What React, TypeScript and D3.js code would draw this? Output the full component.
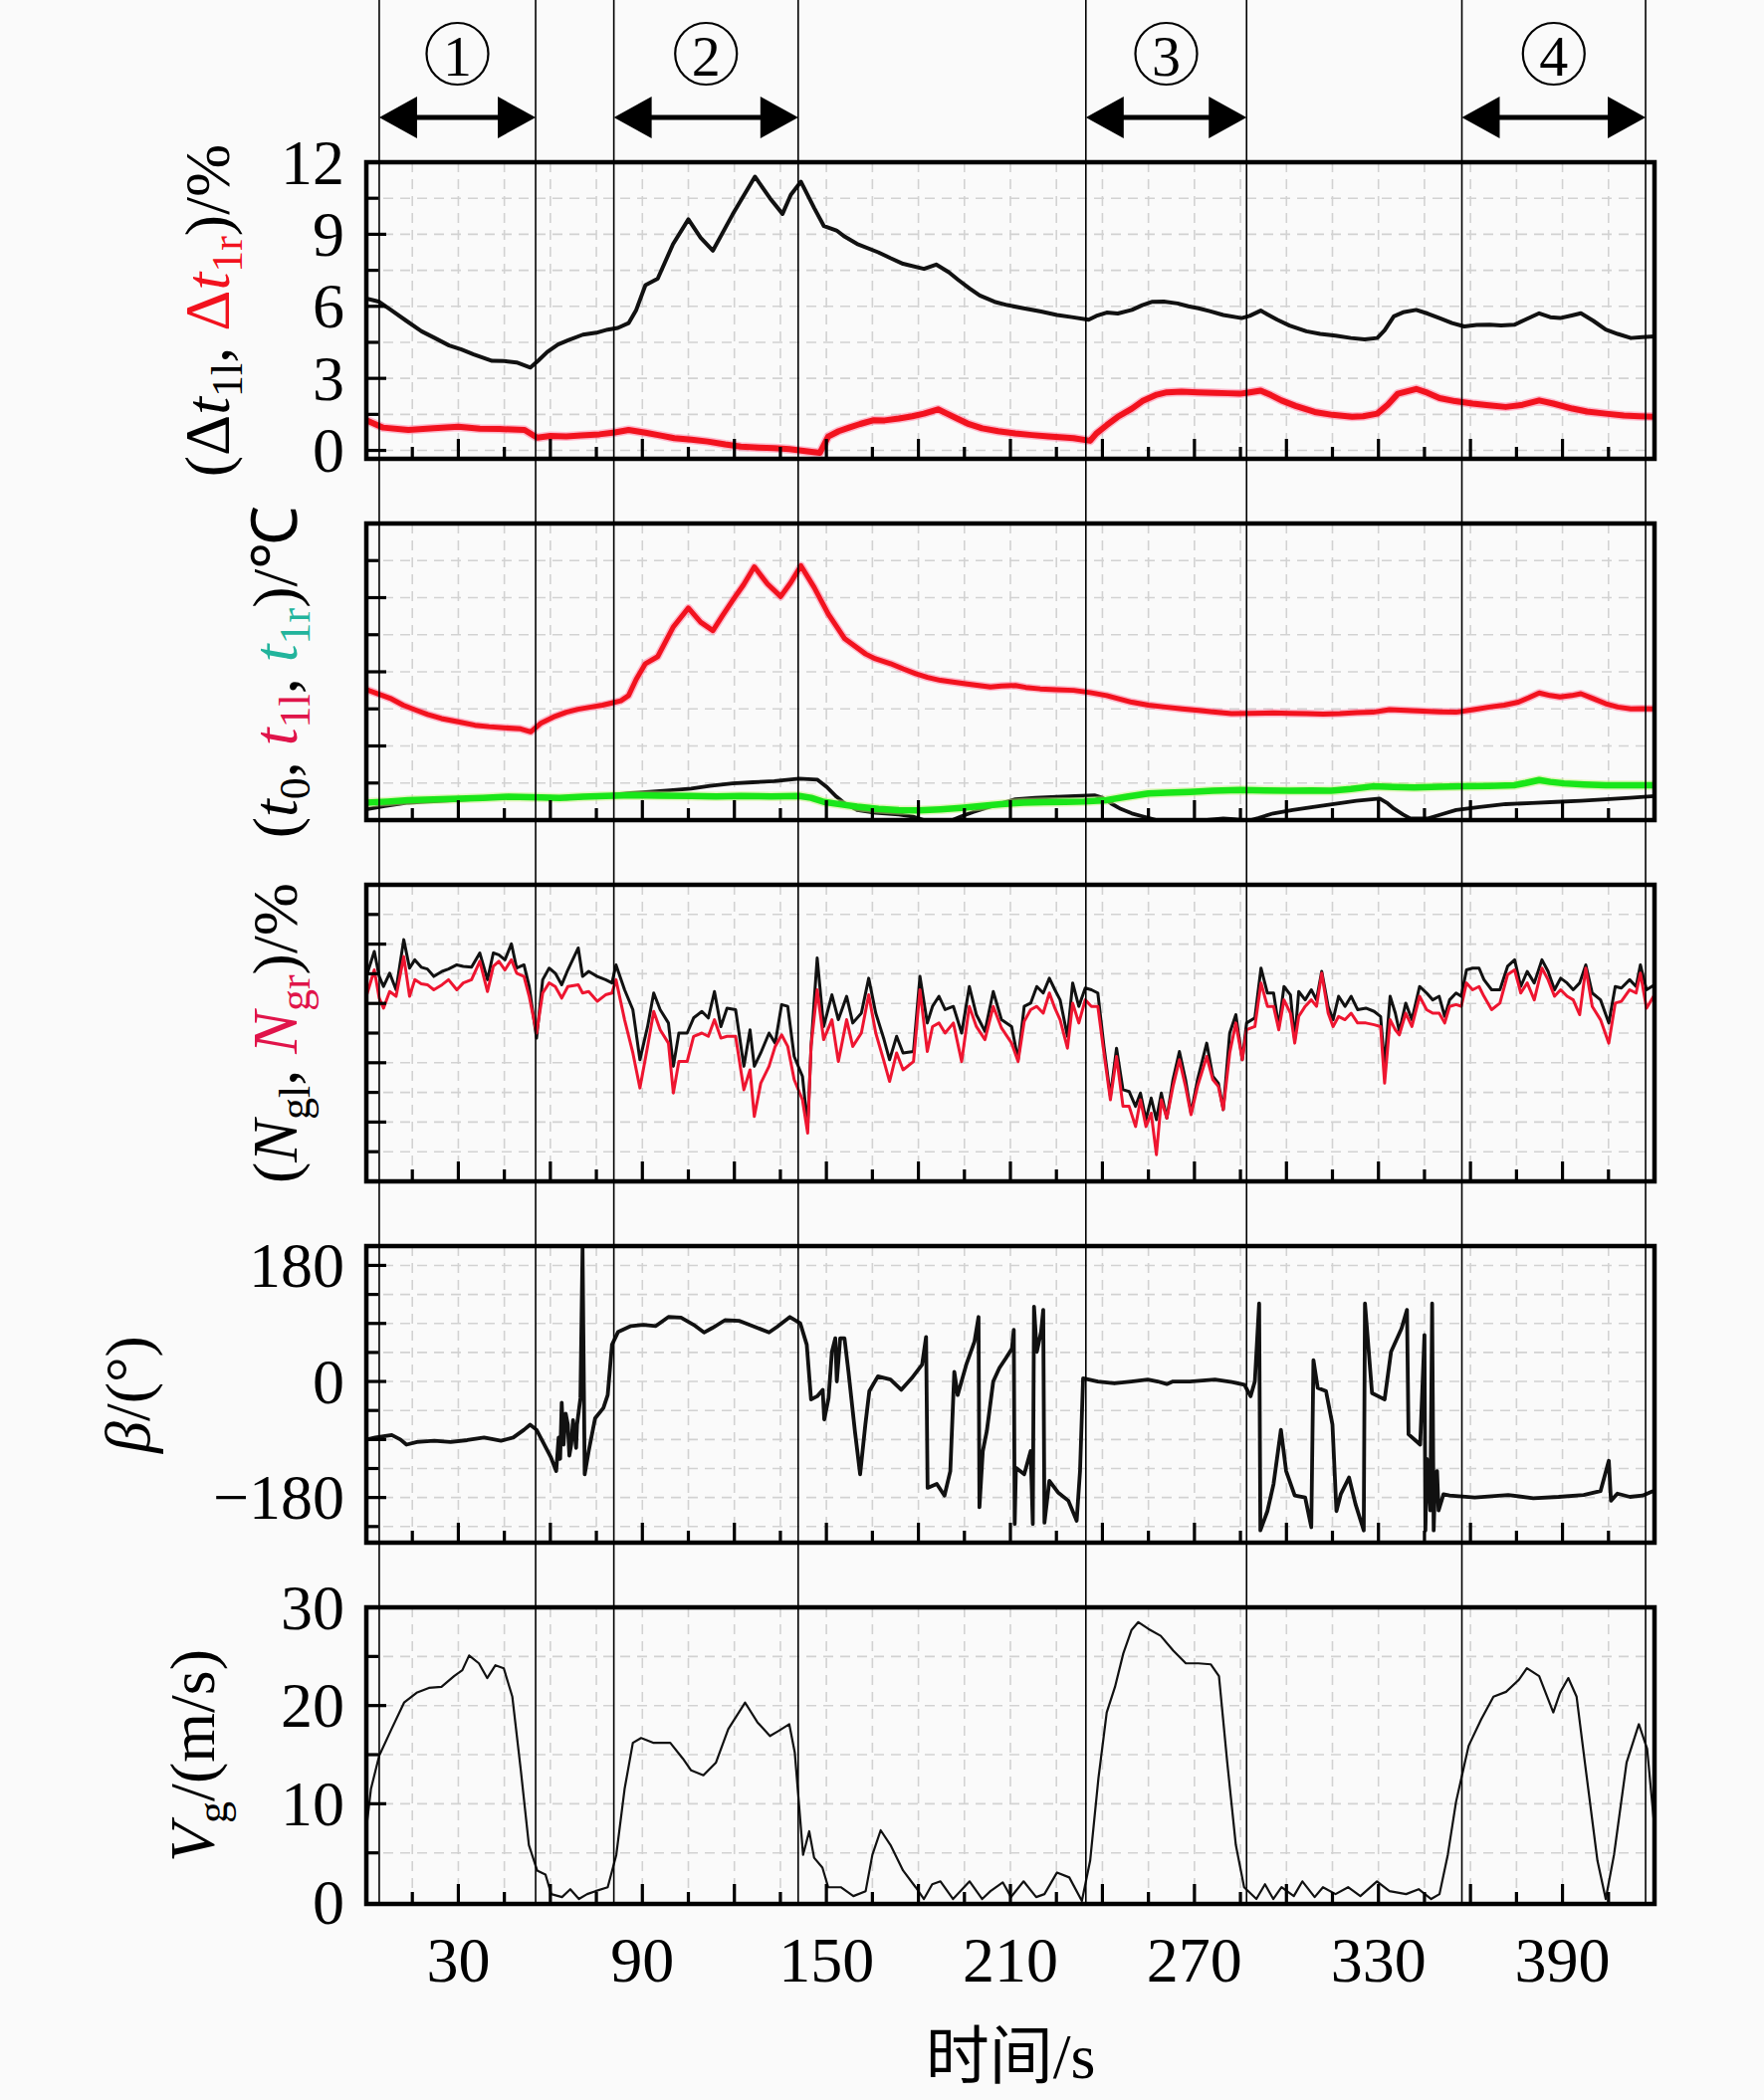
import React from 'react';
import * as d3 from 'd3';

// ---- data (time in s) ----
const dt1l: [number, number][] = [
  [0, 6.33], [4, 6.2], [8, 5.85], [13, 5.4], [18, 4.96], [22, 4.7], [27, 4.37], [31, 4.2], [35, 4.0],
  [41, 3.73], [45, 3.72], [49, 3.66], [53.5, 3.45], [56, 3.73], [59, 4.1], [62.5, 4.41], [66, 4.6],
  [70.6, 4.82], [75, 4.9], [78.7, 5.03], [82, 5.1], [85.5, 5.3], [88, 5.85], [91, 6.88], [95, 7.15],
  [100, 8.59], [105, 9.62], [109, 8.86], [113, 8.32], [119.4, 9.82], [126.7, 11.4], [131.6, 10.5],
  [135.7, 9.85], [138.4, 10.64], [141.7, 11.19], [146, 10.1], [149.2, 9.34], [153.3, 9.16], [156, 8.9],
  [160, 8.6], [166.9, 8.25], [171, 8.0], [175, 7.77], [181.8, 7.56], [185.8, 7.74], [189.9, 7.42],
  [193, 7.1], [196.7, 6.74], [200, 6.45], [204.8, 6.19], [209, 6.05], [214.3, 5.92], [220, 5.78],
  [225.2, 5.64], [230, 5.55], [235.5, 5.44], [238, 5.6], [241.4, 5.74], [245, 5.7], [249.6, 5.85],
  [253, 6.05], [256.3, 6.19], [260, 6.2], [264.5, 6.12], [268, 6.0], [271.3, 5.92], [275, 5.8],
  [279.4, 5.64], [285.4, 5.51], [288, 5.6], [291.6, 5.82], [294, 5.65], [297, 5.44], [301, 5.2],
  [306.5, 4.96], [311, 4.85], [316, 4.78], [321, 4.68], [325.5, 4.62], [329.6, 4.68], [332, 5.0],
  [335, 5.58], [338, 5.75], [342.3, 5.85], [346, 5.7], [349.9, 5.51], [354, 5.3], [358, 5.16],
  [362, 5.22], [366.2, 5.23], [370, 5.2], [374.3, 5.23], [378, 5.45], [382.4, 5.71], [386, 5.55],
  [389.2, 5.51], [393, 5.62], [396, 5.71], [400, 5.4], [404.1, 5.03], [408, 4.85], [412.3, 4.68],
  [416, 4.72], [420, 4.75],
];

const dt1r: [number, number][] = [
  [0, 1.26], [5.5, 0.95], [13.7, 0.85], [22, 0.92], [30, 0.99], [37, 0.9], [43.5, 0.89], [51.6, 0.85],
  [55.7, 0.53], [60, 0.6], [65.2, 0.58], [70, 0.62], [76, 0.67], [81, 0.75], [85.5, 0.85], [91, 0.74],
  [96, 0.62], [100.4, 0.51], [106, 0.45], [111.3, 0.37], [117, 0.25], [122.1, 0.16], [128, 0.12],
  [133, 0.1], [138, 0.05], [143.8, -0.04], [147.9, -0.1], [150.6, 0.58], [154, 0.8], [157.4, 0.95],
  [161, 1.1], [165.5, 1.26], [169, 1.25], [173.6, 1.33], [178, 1.42], [181.8, 1.53], [186.4, 1.71],
  [189, 1.55], [192.6, 1.33], [196, 1.12], [200.8, 0.92], [206, 0.8], [211.6, 0.71], [217, 0.64],
  [222.5, 0.58], [226, 0.55], [230.6, 0.51], [236, 0.4], [238, 0.7], [241.4, 1.05], [245, 1.4],
  [249.6, 1.74], [253, 2.05], [257.7, 2.32], [261, 2.42], [265.8, 2.45], [271, 2.42], [276.7, 2.4],
  [281, 2.38], [284.8, 2.36], [288, 2.42], [291.6, 2.49], [295, 2.3], [298.4, 2.08], [303, 1.85],
  [309.2, 1.6], [315, 1.48], [321.4, 1.4], [325, 1.42], [329.6, 1.53], [333, 1.9], [336.3, 2.36],
  [342.3, 2.56], [346, 2.4], [349.9, 2.18], [355, 2.05], [360.7, 1.95], [366, 1.88], [371.5, 1.81],
  [377, 1.9], [382.4, 2.08], [387, 1.95], [393.2, 1.74], [398, 1.62], [404.1, 1.53], [410, 1.45],
  [415, 1.42], [420, 1.4],
];

const t1l: [number, number][] = [
  [0, 3.52], [4, 3.4], [8.2, 3.27], [12, 3.1], [16.4, 2.96], [20, 2.85], [24.5, 2.74], [30, 2.65],
  [35.4, 2.56], [40, 2.52], [44.8, 2.49], [50.3, 2.46], [53.6, 2.38], [57, 2.62], [61, 2.78],
  [65.2, 2.91], [69, 2.99], [73.3, 3.05], [77, 3.1], [80.1, 3.16], [83, 3.22], [85.5, 3.36], [88, 3.8],
  [91, 4.22], [95, 4.41], [100, 5.2], [105, 5.72], [109, 5.34], [113, 5.11], [116, 5.5], [119.4, 5.92],
  [123, 6.35], [126.5, 6.83], [130.8, 6.37], [135.1, 6.03], [138.4, 6.41], [141.7, 6.86], [146, 6.28],
  [150.6, 5.56], [156, 4.89], [162.8, 4.48], [166, 4.35], [170.9, 4.22], [175, 4.08], [179.1, 3.95],
  [183, 3.85], [187.2, 3.77], [195.3, 3.68], [203.5, 3.59], [207, 3.62], [211.6, 3.63], [215, 3.58],
  [219.7, 3.54], [225, 3.52], [230.6, 3.5], [236, 3.44], [241.4, 3.36], [245, 3.28], [249.6, 3.18],
  [255, 3.1], [260.4, 3.05], [266, 3.0], [271.3, 2.96], [276, 2.92], [282.1, 2.87], [288, 2.88],
  [295.7, 2.89], [301, 2.88], [306.5, 2.87], [312, 2.86], [317.4, 2.87], [323, 2.9], [328.2, 2.91],
  [333.6, 2.98], [339, 2.96], [344.5, 2.94], [350, 2.92], [355.3, 2.91], [361, 2.98], [366.2, 3.05],
  [371, 3.1], [375.6, 3.18], [379, 3.3], [382.4, 3.43], [386, 3.36], [389.2, 3.32], [393, 3.36],
  [396, 3.41], [400, 3.28], [404.1, 3.14], [408, 3.05], [412.3, 3.0], [416, 3.01], [420, 3.0],
];

const t1r: [number, number][] = [
  [0, 0.47], [7, 0.5], [13.7, 0.54], [22, 0.56], [30, 0.58], [38, 0.6], [46.2, 0.63], [57, 0.61],
  [63, 0.6], [70.6, 0.63], [78, 0.65], [86.9, 0.67], [96, 0.66], [105.9, 0.65], [114, 0.64],
  [122.1, 0.65], [132, 0.64], [141.1, 0.65], [145, 0.6], [149.2, 0.49], [155, 0.42], [160, 0.36],
  [167, 0.3], [173.6, 0.27], [180, 0.26], [187.2, 0.29], [194, 0.33], [200.8, 0.38], [207, 0.43],
  [214.3, 0.47], [221, 0.48], [227.9, 0.49], [234, 0.5], [241.4, 0.54], [248, 0.63], [255, 0.72],
  [261, 0.74], [268.5, 0.76], [276, 0.79], [284.8, 0.81], [293, 0.8], [301.1, 0.79], [308, 0.8],
  [314.6, 0.79], [321, 0.84], [328.2, 0.91], [335, 0.89], [341.7, 0.88], [350, 0.9], [358, 0.91],
  [366, 0.92], [374.3, 0.94], [378, 1.0], [382.4, 1.08], [386, 1.03], [390.5, 0.99], [397, 0.96],
  [404.1, 0.94], [412, 0.94], [420, 0.94],
];

const t0: [number, number][] = [
  [0, 0.29], [6, 0.38], [13.7, 0.47], [22, 0.51], [30, 0.54], [38, 0.58], [46.2, 0.61], [55.7, 0.63],
  [60, 0.6], [65.2, 0.58], [72, 0.62], [78.7, 0.67], [85, 0.72], [92.3, 0.76], [99, 0.8], [105.9, 0.85],
  [112, 0.92], [119.4, 0.99], [126, 1.02], [133, 1.05], [141.1, 1.12], [147.1, 1.09], [150, 0.9],
  [153.3, 0.63], [156, 0.45], [160, 0.27], [166, 0.2], [173.6, 0.15], [178, 0.1], [181.8, 0],
  [184.5, -0.13], [187, -0.15], [189.9, -0.04], [194, 0.1], [198, 0.22], [204, 0.38], [211.6, 0.56],
  [218, 0.6], [225.2, 0.63], [231, 0.65], [237.4, 0.67], [240, 0.6], [242.8, 0.45], [246, 0.3],
  [249.6, 0.18], [254, 0.08], [257.7, 0], [263, -0.03], [268.5, -0.04], [274, 0.0], [279.4, 0.04],
  [283, 0.02], [287.5, -0.02], [291, 0.06], [295.7, 0.18], [302, 0.27], [309.2, 0.36], [316, 0.44],
  [322.8, 0.52], [330.4, 0.58], [333, 0.45], [335, 0.31], [338, 0.15], [340.4, 0.04], [345.9, 0.04],
  [350, 0.14], [355.3, 0.27], [363, 0.35], [371.5, 0.43], [380, 0.46], [387.8, 0.49], [396, 0.52],
  [404.1, 0.56], [412, 0.6], [420, 0.65],
];

const ngTime = [
  0, 2.6, 4.2, 5.6, 7.6, 9.7, 12.2, 14.1, 15.8, 17.9, 19.9, 22, 24.7, 26.8, 29.5, 31.6, 34.3, 37, 39.5,
  41.4, 43.2, 45.2, 47.3, 49, 51.4, 53.1, 55.5, 57.5, 59.6, 61.6, 63.7, 65.7, 69.1, 70.5, 72.5, 75.3,
  78, 80.1, 81.4, 84.2, 86.9, 89.2, 91.7, 93.7, 95.8, 98.5, 100.1, 101.9, 104.6, 106.7, 109.4, 111.5,
  113.5, 115.6, 117.6, 120.4, 123.1, 125.1, 126.5, 128.6, 131.3, 133.3, 135.4, 137.4, 139.5, 142.2,
  143.9, 145, 147, 149.1, 151.8, 153.9, 156.6, 158.6, 161.4, 163.8, 166.1, 168.8, 170.6, 172.9, 175,
  178.4, 180.5, 182.9, 184.6, 186.7, 188.7, 191.4, 194.1, 196.6, 198.9, 201.7, 204.4, 207.1, 210.4,
  212.5, 214.5, 216.6, 218.6, 220.7, 222.7, 224.5, 226.2, 228.6, 230.3, 232.3, 234.4, 236.4, 238.5,
  240.5, 242.6, 244.6, 246.7, 248.7, 250.8, 252.4, 254.2, 255.9, 257.6, 259.2, 261, 263, 265.1, 267.1,
  268.9, 271, 274, 276, 277.8, 279.4, 281.5, 283.5, 285.6, 287, 289.7, 291.7, 293.8, 295.8, 297.5,
  299.2, 301.3, 302.7, 304, 306.1, 308.1, 309.8, 311.5, 313.6, 315.2, 317, 319.1, 321.1, 323.2, 325.9,
  328.6, 330.7, 332, 333.8, 335.5, 336.8, 338.9, 340.9, 343.4, 345.7, 347.7, 349.8, 351.6, 353.2,
  355.3, 357, 358.7, 360.7, 362.8, 364.4, 366.9, 369.6, 372.1, 374.4, 376.4, 378.5, 380.8, 383.3,
  385.3, 387.4, 389.4, 391.5, 393.5, 395.6, 397.6, 399.7, 402.4, 405.1, 407.2, 409.2, 411.9, 414,
  415.4, 417.4, 420,
];
const ngl = [
  6.91, 7.75, 6.91, 6.57, 7.02, 6.46, 8.15, 7.19, 7.47, 7.22, 7.16, 6.91, 7.08, 7.16, 7.3, 7.25, 7.22,
  7.7, 6.8, 7.7, 7.64, 7.47, 8.01, 7.19, 7.3, 6.57, 4.83, 6.8, 7.19, 7.02, 6.63, 7.13, 7.87, 6.91, 7.08,
  6.91, 6.8, 6.69, 7.3, 6.46, 5.79, 4.1, 5.22, 6.35, 5.79, 5.34, 3.88, 5.0, 5.0, 5.51, 5.73, 5.51, 6.4,
  5.22, 5.84, 5.79, 3.88, 5.11, 3.88, 4.33, 5.0, 4.66, 5.96, 5.9, 4.21, 3.54, 1.85, 4.55, 7.53, 5.22,
  6.29, 5.45, 6.24, 5.34, 5.67, 6.85, 5.67, 4.78, 4.1, 4.89, 4.33, 4.38, 6.91, 5.34, 5.9, 6.24, 5.79,
  5.9, 5.0, 6.57, 5.62, 5.06, 6.4, 5.45, 5.22, 4.1, 5.9, 6.01, 6.57, 6.35, 6.85, 6.46, 6.12, 4.89, 6.69,
  5.9, 6.52, 6.46, 6.35, 4.55, 2.87, 4.49, 3.09, 3.03, 2.53, 2.98, 2.08, 2.81, 2.08, 2.98, 2.13, 3.43,
  4.38, 3.43, 2.3, 3.43, 4.66, 3.54, 3.31, 2.42, 5.0, 5.62, 4.1, 5.34, 5.51, 7.19, 6.35, 6.35, 5.22,
  6.57, 6.29, 4.78, 6.4, 6.12, 6.46, 6.12, 7.08, 5.9, 5.45, 6.24, 5.9, 6.24, 5.79, 5.84, 5.73, 5.56,
  3.88, 6.24, 5.67, 5.06, 6.01, 5.45, 6.57, 6.35, 6.12, 6.24, 5.56, 6.12, 6.35, 6.24, 7.13, 7.19, 7.19,
  6.8, 6.46, 6.46, 7.25, 7.47, 6.57, 7.08, 6.69, 7.47, 7.08, 6.46, 6.85, 6.69, 6.46, 6.69, 7.3, 6.35,
  6.12, 5.34, 6.57, 6.52, 6.8, 6.57, 7.3, 6.46, 6.63,
];
const ngr = [
  6.24, 7.13, 6.18, 5.84, 6.4, 6.24, 7.58, 6.24, 6.8, 6.66, 6.63, 6.46, 6.63, 6.8, 6.46, 6.69, 6.8,
  7.42, 6.4, 7.25, 7.42, 7.13, 7.47, 7.02, 6.91, 6.24, 5.0, 6.35, 6.69, 6.57, 6.18, 6.57, 6.63, 6.35,
  6.4, 6.07, 6.29, 6.35, 6.8, 5.45, 4.33, 3.15, 4.55, 5.73, 5.11, 4.66, 2.98, 4.04, 4.04, 4.89, 5.0,
  4.89, 5.45, 4.83, 4.89, 4.89, 3.09, 3.76, 2.19, 3.31, 3.88, 4.55, 4.94, 4.55, 3.43, 2.75, 1.63, 4.55,
  6.46, 4.78, 5.45, 4.04, 5.45, 4.55, 5.0, 6.29, 5.0, 4.04, 3.37, 4.33, 3.76, 4.04, 6.46, 4.38, 5.22,
  5.34, 5.0, 5.34, 4.04, 5.9, 5.22, 4.78, 5.9, 5.17, 4.66, 4.04, 5.39, 5.79, 5.9, 5.67, 6.35, 5.84, 5.45,
  4.49, 6.01, 5.34, 6.12, 5.9, 5.9, 4.33, 2.75, 4.21, 2.53, 2.53, 1.85, 2.75, 1.85, 2.3, 0.9, 2.75,
  2.13, 3.2, 4.1, 3.2, 2.25, 3.2, 4.21, 3.43, 3.2, 2.42, 4.33, 5.34, 4.1, 5.11, 5.22, 6.69, 5.9, 5.9,
  5.11, 6.12, 5.67, 4.66, 5.56, 5.9, 6.12, 5.9, 7.02, 5.67, 5.22, 5.56, 5.45, 5.67, 5.34, 5.34, 5.28,
  5.22, 3.31, 5.45, 5.11, 4.94, 5.67, 5.22, 6.24, 5.79, 5.67, 5.67, 5.34, 5.9, 5.96, 5.9, 6.69, 6.46,
  6.57, 6.24, 5.79, 6.01, 6.97, 7.13, 6.35, 6.69, 6.12, 7.19, 6.8, 6.24, 6.46, 6.24, 6.12, 5.62, 7.19,
  5.9, 5.45, 4.66, 6.01, 6.07, 6.46, 6.35, 7.02, 5.84, 6.29,
];

const beta: [number, number][] = [
  [0, -90], [2.9, -87], [8.3, -83], [11.1, -90], [13.1, -98], [16.5, -94], [22, -92], [27.5, -94],
  [32.9, -91], [38.4, -87], [43.9, -92], [47.9, -87], [51.4, -75], [53.4, -67], [55.5, -75],
  [57.5, -93], [60.2, -118], [61.9, -139], [62.7, -87], [63.2, -120], [63.7, -33], [64.3, -98],
  [65, -50], [65.7, -67], [66.2, -115], [66.8, -98], [67.4, -60], [68.4, -103], [68.7, -67],
  [69.8, -26], [70.5, 206], [71.2, -144], [72.5, -108], [74.6, -57], [77.3, -41], [78.7, -21],
  [80.1, 57], [82.1, 77], [86.3, 86], [90.3, 88], [94.4, 86], [98.5, 100], [102.6, 99], [106.7, 88],
  [110.1, 76], [112.8, 83], [116.9, 95], [121.7, 94], [126.5, 85], [131.3, 76], [134, 85], [138.1, 100],
  [141.5, 90], [143.6, 57], [145, -28], [147, -23], [148.8, -13], [149.3, -59], [150.7, -26],
  [151.8, 46], [152.9, 67], [153.4, 0], [154.5, 67], [155.9, 67], [157.2, 15], [159.3, -77], [161, -144],
  [162.7, -67], [164, -15], [166.8, 8], [170.9, 3], [174.4, -13], [177.8, 5], [181.2, 26], [182.5, 69],
  [183, -165], [186, -159], [188.5, -177], [190.4, -139], [191.7, 15], [192.8, -21], [195.6, 26],
  [198.3, 62], [199.6, 100], [199.9, -195], [201, -108], [202.3, -77], [204.4, 0], [206.4, 21],
  [208.5, 36], [210.5, 51], [211.1, 80], [211.4, -221], [211.8, -134], [214.5, -144], [216.6, -108],
  [217.3, -221], [217.7, 116], [218.6, 46], [220, 77], [220.7, 111], [221.1, -219], [222.7, -154],
  [225.5, -172], [228.9, -185], [231.6, -216], [232.7, -139], [233.7, 5], [238.5, 0], [243.9, -3],
  [249.4, 0], [254.8, 3], [258, 0], [261, -4], [263, 0], [268.5, 0], [276.7, 3], [282.2, -1],
  [286.3, -5], [288.3, -23], [289.7, 0], [291.1, 121], [291.5, -231], [293.8, -201], [295.8, -159],
  [298.2, -75], [299.9, -139], [302.7, -177], [306.1, -180], [308.1, -226], [308.8, 33], [310.2, -10],
  [312.9, -15], [315, -67], [316.3, -201], [317.7, -175], [320.4, -149], [322.5, -190], [325.2, -231],
  [325.6, 121], [327.9, -18], [332, -28], [334.1, 46], [337.5, 82], [339.3, 111], [339.8, -82],
  [343.6, -98], [345, 72], [345.3, -231], [345.8, -120], [346.4, -165], [346.9, -200], [347.5, 121],
  [348, -231], [348.5, -150], [349.1, -139], [349.6, -200], [351.2, -175], [353.2, -177],
  [361.4, -180], [372.3, -176], [380.5, -181], [388.7, -179], [396.9, -176], [402.4, -170],
  [405.1, -123], [405.8, -185], [407.9, -174], [412, -179], [416.1, -177], [419.5, -170],
];

const vg: [number, number][] = [
  [0, 7.5], [1.5, 11.5], [4.2, 14.9], [8.2, 17.6], [12.3, 20.3], [16.4, 21.3], [20.4, 21.8],
  [24.5, 21.9], [28.6, 23], [31.3, 23.6], [33.5, 25.1], [36.7, 24.3], [39.4, 22.8], [42.1, 24.1],
  [44.8, 23.8], [47.6, 20.9], [50.3, 13.6], [53, 5.8], [55.7, 3.2], [58.4, 2.8], [60.3, 0.8],
  [63.8, 0.5], [66.5, 1.3], [69.3, 0.3], [72, 0.8], [74.7, 1.1], [78.7, 1.5], [81.5, 4.8], [84.2, 11.5],
  [86.9, 16.2], [89.6, 16.7], [93.7, 16.2], [99.1, 16.2], [103.2, 14.6], [105.9, 13.4], [109.9, 12.9],
  [114, 14.2], [118, 17.6], [123.5, 20.3], [127.5, 18.3], [131.6, 16.9], [134.3, 17.4], [137.9, 18.1],
  [139.7, 15.2], [142.4, 4.8], [144.4, 7.2], [146, 4.5], [148.7, 3.5], [150.6, 1.5], [154.7, 1.5],
  [158.8, 0.6], [162.8, 1.1], [165, 4.8], [167.7, 7.3], [170.9, 5.8], [175, 3.2], [179.1, 1.5],
  [181.8, 0.3], [184.5, 1.8], [187.2, 2.1], [191.3, 0.3], [196.7, 2.1], [200.8, 0.3], [203.5, 1.1],
  [207.5, 2.0], [210.2, 0.5], [214.3, 2.1], [218.4, 0.5], [221.1, 0.8], [225.2, 3.0], [229.2, 2.5],
  [233.3, 0.1], [236, 4.2], [238.7, 12.6], [241.4, 19.3], [244.1, 21.9], [246.8, 25.3], [249.5, 27.7],
  [251.7, 28.5], [255, 27.8], [259, 27.1], [263.1, 25.6], [267.2, 24.3], [271.3, 24.3], [275.3, 24.2],
  [278, 23], [280.7, 14.2], [283.5, 5.8], [286.2, 1.5], [290.2, 0.3], [293, 1.8], [295.7, 0.3],
  [298.4, 1.5], [302.4, 0.6], [305.2, 2.1], [309.2, 0.5], [311.9, 1.5], [316, 0.8], [320.1, 1.5],
  [324.1, 0.6], [329.5, 2.1], [333.6, 1.1], [339, 0.8], [343.1, 1.3], [347.2, 0.3], [349.9, 0.8],
  [352.6, 4.8], [355.3, 10.2], [359.4, 15.9], [363.5, 18.6], [367.5, 20.9], [371.6, 21.4],
  [375.7, 22.6], [378.4, 23.8], [382.4, 23], [387, 19.3], [389.2, 21.3], [391.9, 22.8], [394.6, 20.9],
  [397.3, 14.2], [401.4, 4.2], [404.1, 0.3], [406.8, 4.8], [410.9, 14.2], [414.9, 18.1], [417.6, 15.6],
  [420, 7.5],
];

// phase boundaries and labels
const phaseBounds: [number, number][] = [[4.2, 55.2], [80.7, 140.8], [234.6, 287], [357.2, 417.1]];
const phaseNames = ['1', '2', '3', '4'];

const xTicks = d3.range(15, 420, 15);
const xTickLabels = [30, 90, 150, 210, 270, 330, 390];

const p1Ticks = [0, 1.5, 3, 4.5, 6, 7.5, 9, 10.5];
const p1Labels = [0, 3, 6, 9, 12];
const p2Ticks = [1, 2, 3, 4, 5, 6, 7];
const p3Ticks = [1, 2, 3, 4, 5, 6, 7, 8, 9];
const p4Ticks = [-225, -180, -135, -90, -45, 0, 45, 90, 135, 180];
const p4Labels = [-180, 0, 180];
const p5Ticks = [5, 10, 15, 20, 25];
const p5Labels = [0, 10, 20, 30];

// ---- layout ----
const W = 1772;
const H = 2110;
const L = 368;
const R = 1662;
const PH = 298;
const tops = [163, 526, 889, 1252, 1615];
const serif = '"Liberation Serif", "Times New Roman", serif';
const RED = '#f2121e';
const CRIMSON = '#e0144a';
const TEAL = '#22b49c';

const x = d3.scaleLinear().domain([0, 420]).range([L, R]);

type Series = { data: [number, number][]; color: string; width: number; halo?: string };
type Panel = {
  top: number;
  domain: [number, number];
  ticks: number[];
  major: number;
  labels: number[];
  series: Series[];
};

const ngPairs = (vals: number[]) => ngTime.map((t, i) => [t, vals[i]] as [number, number]);

const panels: Panel[] = [
  {
    top: tops[0], domain: [-0.35, 12], ticks: p1Ticks, major: 3, labels: p1Labels,
    series: [
      { data: dt1l, color: '#111', width: 4 },
      { data: dt1r, color: RED, width: 6, halo: '#ff7aa0' },
    ],
  },
  {
    top: tops[1], domain: [0, 8], ticks: p2Ticks, major: 2, labels: [],
    series: [
      { data: t0, color: '#111', width: 3.8 },
      { data: t1r, color: '#19e619', width: 6.5, halo: '#c8f080' },
      { data: t1l, color: RED, width: 5, halo: '#ff7aa0' },
    ],
  },
  {
    top: tops[2], domain: [0, 10], ticks: p3Ticks, major: 2, labels: [],
    series: [
      { data: ngPairs(ngl), color: '#111', width: 3 },
      { data: ngPairs(ngr), color: '#ee1530', width: 3 },
    ],
  },
  {
    top: tops[3], domain: [-250, 210], ticks: p4Ticks, major: 90, labels: p4Labels,
    series: [{ data: beta, color: '#111', width: 3.8 }],
  },
  {
    top: tops[4], domain: [-0.2, 30], ticks: p5Ticks, major: 10, labels: p5Labels,
    series: [{ data: vg, color: '#111', width: 2.2 }],
  },
];

const fmt = (v: number) => (v < 0 ? `\u2212${-v}` : `${v}`);

const isMajor = (v: number, step: number) => Math.abs(v / step - Math.round(v / step)) < 1e-6;

function PanelView({ p, idx }: { p: Panel; idx: number }) {
  const y = d3.scaleLinear().domain(p.domain).range([p.top + PH, p.top]);
  const line = d3.line<[number, number]>().x((d) => x(d[0])).y((d) => y(d[1]));
  const bottom = p.top + PH;
  const clipId = `clip-${idx}`;
  return (
    <g>
      <defs>
        <clipPath id={clipId}>
          <rect x={L} y={p.top} width={R - L} height={PH} />
        </clipPath>
      </defs>
      {/* grid */}
      <g stroke="#d2d2d2" strokeWidth={1.6} strokeDasharray="10 7">
        {xTicks.map((t) => (
          <line key={`gx${t}`} x1={x(t)} x2={x(t)} y1={p.top} y2={bottom} />
        ))}
        {p.ticks.map((v) => (
          <line key={`gy${v}`} x1={L} x2={R} y1={y(v)} y2={y(v)} />
        ))}
      </g>
      {/* data */}
      <g clipPath={`url(#${clipId})`} fill="none" strokeLinejoin="round">
        {p.series.map((s, i) => (
          <g key={i}>
            {s.halo && <path d={line(s.data) ?? ''} stroke={s.halo} strokeWidth={s.width + 3} opacity={0.5} />}
            <path d={line(s.data) ?? ''} stroke={s.color} strokeWidth={s.width} />
          </g>
        ))}
      </g>
      {/* ticks */}
      <g stroke="#000" strokeWidth={3.2}>
        {p.ticks.map((v) => (
          <line key={`ty${v}`} x1={L} x2={L + (isMajor(v, p.major) ? 20 : 12)} y1={y(v)} y2={y(v)} />
        ))}
        {xTicks.map((t) => (
          <line key={`tx${t}`} x1={x(t)} x2={x(t)} y1={bottom} y2={bottom - (t % 30 === 0 ? 20 : 12)} />
        ))}
      </g>
      {/* tick labels */}
      {p.labels.map((v) => (
        <text key={`l${v}`} x={L - 22} y={y(v)} textAnchor="end" dominantBaseline="central"
          fontFamily={serif} fontSize={64}>
          {fmt(v)}
        </text>
      ))}
      <rect x={L} y={p.top} width={R - L} height={PH} fill="none" stroke="#000" strokeWidth={4.5} />
    </g>
  );
}

const subDy = 13;

function Titles() {
  const mid = (i: number) => tops[i] + PH / 2;
  const common = { textAnchor: 'middle' as const, fontFamily: serif, fontSize: 64 };
  return (
    <g>
      <text transform={`translate(230, ${mid(0)}) rotate(-90)`} {...common}>
        <tspan>(Δ</tspan>
        <tspan fontStyle="italic">t</tspan>
        <tspan fontSize={44} dy={subDy}>1l</tspan>
        <tspan dy={-subDy}>, </tspan>
        <tspan fill={RED}>Δ</tspan>
        <tspan fill={RED} fontStyle="italic">t</tspan>
        <tspan fill={RED} fontSize={44} dy={subDy}>1r</tspan>
        <tspan dy={-subDy}>)/%</tspan>
      </text>
      <text transform={`translate(298, ${mid(1)}) rotate(-90)`} {...common}>
        <tspan>(</tspan>
        <tspan fontStyle="italic">t</tspan>
        <tspan fontSize={44} dy={subDy}>0</tspan>
        <tspan dy={-subDy}>, </tspan>
        <tspan fill={CRIMSON} fontStyle="italic">t</tspan>
        <tspan fill={CRIMSON} fontSize={44} dy={subDy}>1l</tspan>
        <tspan dy={-subDy}>, </tspan>
        <tspan fill={TEAL} fontStyle="italic">t</tspan>
        <tspan fill={TEAL} fontSize={44} dy={subDy}>1r</tspan>
        <tspan dy={-subDy}>)/℃</tspan>
      </text>
      <text transform={`translate(298, ${mid(2)}) rotate(-90)`} {...common}>
        <tspan>(</tspan>
        <tspan fontStyle="italic">N</tspan>
        <tspan fontSize={44} dy={subDy}>gl</tspan>
        <tspan dy={-subDy}>, </tspan>
        <tspan fill={CRIMSON} fontStyle="italic">N</tspan>
        <tspan fill={CRIMSON} fontSize={44} dy={subDy}>gr</tspan>
        <tspan dy={-subDy}>)/%</tspan>
      </text>
      <text transform={`translate(150, ${mid(3)}) rotate(-90)`} {...common}>
        <tspan fontStyle="italic">β</tspan>
        <tspan>/(°)</tspan>
      </text>
      <text transform={`translate(215, ${mid(4)}) rotate(-90)`} {...common}>
        <tspan fontStyle="italic">V</tspan>
        <tspan fontSize={44} dy={subDy}>g</tspan>
        <tspan dy={-subDy}>/(m/s)</tspan>
      </text>
    </g>
  );
}

function Phases() {
  const ay = 118;
  const head = 38;
  const half = 21;
  const lineBottom = tops[4] + PH;
  const allBounds = phaseBounds.flat();
  return (
    <g>
      {allBounds.map((t, i) => (
        <line key={`v${i}`} x1={x(t)} x2={x(t)} y1={0} y2={lineBottom} stroke="#000" strokeWidth={1.6} />
      ))}
      {phaseBounds.map(([a, b], i) => {
        const xa = x(a);
        const xb = x(b);
        const cx = (xa + xb) / 2;
        return (
          <g key={`p${i}`}>
            <line x1={xa + head - 2} x2={xb - head + 2} y1={ay} y2={ay} stroke="#000" strokeWidth={5} />
            <path d={`M${xa},${ay} L${xa + head},${ay - half} L${xa + head},${ay + half} Z`} fill="#000" />
            <path d={`M${xb},${ay} L${xb - head},${ay - half} L${xb - head},${ay + half} Z`} fill="#000" />
            <circle cx={cx} cy={54} r={31} fill="none" stroke="#000" strokeWidth={2.2} />
            <text x={cx} y={56} textAnchor="middle" dominantBaseline="central" fontFamily={serif} fontSize={58}>
              {phaseNames[i]}
            </text>
          </g>
        );
      })}
    </g>
  );
}

export default function App() {
  const bottom = tops[4] + PH;
  return (
    <svg width={W} height={H} viewBox={`0 0 ${W} ${H}`}
      style={{ position: 'absolute', left: 0, top: 0, background: '#fafafa' }}>
      <rect x={0} y={0} width={W} height={H} fill="#fafafa" />
      {panels.map((p, i) => (
        <PanelView key={i} p={p} idx={i} />
      ))}
      <Phases />
      <Titles />
      {xTickLabels.map((t) => (
        <text key={`xl${t}`} x={x(t)} y={bottom + 56} textAnchor="middle" dominantBaseline="central"
          fontFamily={serif} fontSize={64}>
          {t}
        </text>
      ))}
      <text x={(L + R) / 2} y={2066} textAnchor="middle" dominantBaseline="central" fontSize={64}
        fontFamily={`${serif}, "Noto Sans CJK SC"`}>
        时间/s
      </text>
    </svg>
  );
}
